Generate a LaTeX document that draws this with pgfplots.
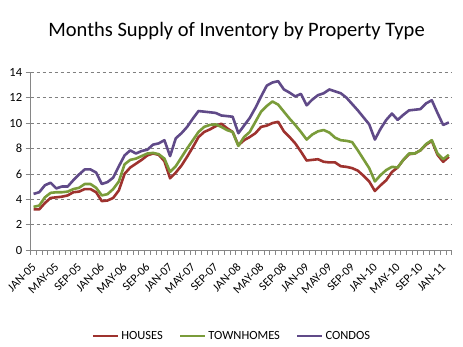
\documentclass[border=0pt]{standalone}
\usepackage{pgfplots}
\usepackage{pgfplotstable}
\pgfplotsset{compat=1.18}
\usepackage{fontspec}
\setmainfont{Carlito}
\definecolor{houses}{RGB}{158,50,46}
\definecolor{town}{RGB}{122,156,58}
\definecolor{condo}{RGB}{96,74,136}
\definecolor{axgray}{RGB}{134,134,134}
\pgfplotstableread{
i h t c
0 3.2 3.4 4.42
1 3.2 3.5 4.55
2 3.7 4.15 5.1
3 4.1 4.5 5.3
4 4.15 4.55 4.85
5 4.2 4.55 5.0
6 4.3 4.6 5.0
7 4.55 4.8 5.5
8 4.6 4.9 5.95
9 4.8 5.2 6.35
10 4.8 5.2 6.35
11 4.55 4.9 6.1
12 3.85 4.3 5.2
13 3.9 4.4 5.35
14 4.1 4.8 5.7
15 4.7 5.4 6.6
16 6.0 6.75 7.45
17 6.5 7.1 7.85
18 6.8 7.2 7.6
19 7.1 7.4 7.8
20 7.45 7.6 7.9
21 7.6 7.65 8.3
22 7.5 7.55 8.4
23 7.0 7.2 8.65
24 5.65 6.15 7.4
25 6.1 6.6 8.8
26 6.65 7.3 9.2
27 7.35 8.0 9.7
28 8.1 8.65 10.35
29 8.9 9.3 10.95
30 9.3 9.7 10.9
31 9.5 9.85 10.85
32 9.75 9.9 10.8
33 9.95 9.7 10.6
34 9.6 9.45 10.55
35 9.3 9.3 10.5
36 8.25 8.2 9.2
37 8.65 8.9 9.8
38 8.9 9.3 10.4
39 9.2 10.1 11.2
40 9.7 10.9 12.1
41 9.8 11.35 12.95
42 10.0 11.7 13.2
43 10.1 11.45 13.3
44 9.35 10.9 12.65
45 8.9 10.35 12.4
46 8.4 9.85 12.1
47 7.75 9.3 12.3
48 7.05 8.7 11.4
49 7.1 9.1 11.85
50 7.15 9.35 12.2
51 6.95 9.45 12.35
52 6.9 9.25 12.65
53 6.9 8.85 12.5
54 6.6 8.65 12.35
55 6.55 8.6 12.0
56 6.45 8.5 11.5
57 6.25 7.85 11.0
58 5.85 7.15 10.45
59 5.4 6.45 9.9
60 4.65 5.4 8.7
61 5.1 5.9 9.55
62 5.5 6.3 10.25
63 6.15 6.55 10.75
64 6.5 6.5 10.25
65 7.1 7.1 10.65
66 7.55 7.6 11.0
67 7.6 7.6 11.05
68 7.85 7.85 11.1
69 8.3 8.35 11.55
70 8.6 8.65 11.8
71 7.5 7.6 10.8
72 6.95 7.15 9.85
73 7.35 7.5 10.05
}\data
\begin{document}
\begin{tikzpicture}[x=1pt,y=1pt]
\path[use as bounding box] (0,0) rectangle (463,347);
\begin{axis}[
  at={(30.7pt,97pt)}, anchor=south west,
  scale only axis, width=421pt, height=177.7pt,
  xmin=-0.5, xmax=73.5, ymin=0, ymax=14,
  axis x line*=bottom, axis y line*=left,
  axis line style={axgray, line width=0.8pt},
  every tick/.style={axgray, line width=0.6pt},
  tick align=outside, major tick length=0pt, minor tick length=5pt,
  ytick={0,2,...,14}, minor ytick={0,2,...,14},
  ymajorgrids, grid style={dashed, gray, line width=0.5pt},
  xtick={0,4,...,72},
  xticklabels={JAN-05,MAY-05,SEP-05,JAN-06,MAY-06,SEP-06,JAN-07,MAY-07,SEP-07,JAN-08,MAY-08,SEP-08,JAN-09,MAY-09,SEP-09,JAN-10,MAY-10,SEP-10,JAN-11},
  minor xtick={-0.5,0.5,...,73.5},
  xticklabel style={xshift=0.5pt, yshift=-15pt, rotate=45, anchor=east, inner sep=0pt, font=\fontsize{12}{14}\selectfont},
  yticklabel style={font=\fontsize{12.5}{14}\selectfont, xshift=-5pt},
  /pgf/number format/assume math mode=true,
  title={Months Supply of Inventory by Property Type},
  title style={at={(0.489,1)}, anchor=center, yshift=35pt, font=\fontsize{20.5}{24}\selectfont},
  legend style={at={(0.478,-0.485)}, anchor=center, draw=none, fill=none,
    font=\fontsize{12.5}{14}\selectfont, legend columns=3,
    /tikz/every even column/.append style={column sep=14pt}},
  legend image code/.code={\draw[#1, line width=2.6pt] (0pt,0pt) -- (25pt,0pt);},
  every axis plot/.append style={line width=2.6pt, line join=round, mark=none},
]
\addplot[houses] table[x=i,y=h] {\data};
\addplot[town] table[x=i,y=t] {\data};
\addplot[condo] table[x=i,y=c] {\data};
\legend{HOUSES,TOWNHOMES,CONDOS}
\end{axis}
\end{tikzpicture}
\end{document}
